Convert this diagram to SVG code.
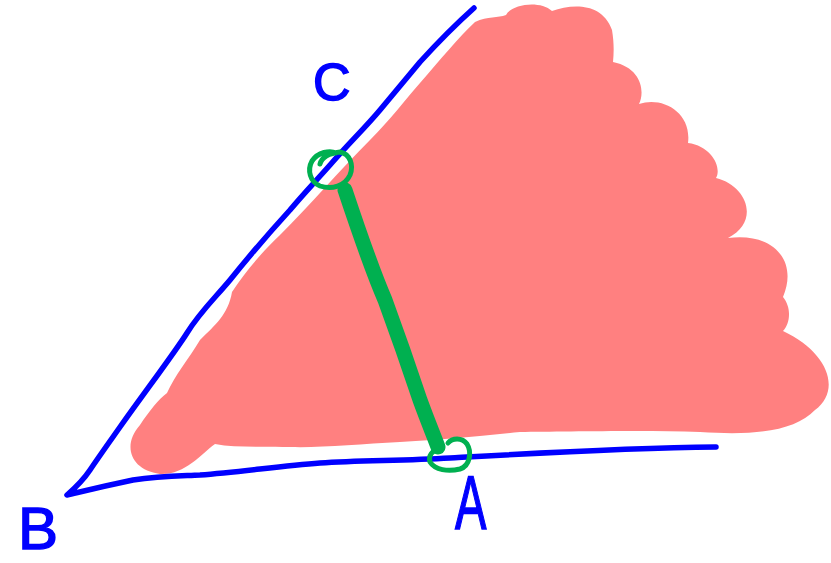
<svg xmlns="http://www.w3.org/2000/svg" width="831" height="563" viewBox="0 0 831 563">
<style>
.blue{fill:none;stroke:#0000FF;stroke-width:5.5;stroke-linecap:round;stroke-linejoin:round}
.green{fill:none;stroke:#00B050;stroke-linecap:round;stroke-linejoin:round}
.lbl{font-family:"Liberation Sans",Arial,sans-serif;fill:#0000FF;stroke:#0000FF;stroke-width:1.5}
</style>
<rect width="831" height="563" fill="#FFFFFF"/>
<g id="region">
<path fill="#FF8080" d="M475,22 C488,16 498,18 506,15 C512,4 540,0 552,11 C572,4 602,2 612,30 C614,42 614,52 613,62 C642,68 645,92 639,104 C662,96 692,112 688,143 C712,146 722,168 716,178 C748,186 760,222 728,238 C775,232 798,262 783,297 C792,308 790,324 783,331 C828,352 842,390 815,410 C795,430 760,436 700,432 C640,430 560,432 520,432 C480,436 440,440 400,442 C360,444 320,448 290,447 C260,446 235,448 215,444 C200,455 185,475 160,474 C130,470 122,445 140,425 C150,410 158,400 167,393 C175,375 188,360 200,340 C215,325 228,315 232,292 C245,272 262,252 280,235 C310,205 340,170 370,140 C390,120 405,100 420,83 C440,60 458,38 475,22 Z"/>
</g>
<g id="connectors">
<path id="BC" class="blue" d="M474,8 C455,25 440,40 420,62 C405,80 395,92 380,110 C365,128 350,142 330,165 C315,182 305,192 290,210 C270,232 250,255 230,280 C215,298 200,312 187,333 C175,352 150,385 120,427 C108,444 98,458 90,470 C82,482 75,488 67,495 C80,492 95,488 133,480 C160,476 180,476 200,475 C240,472 280,466 320,463 C360,460 400,461 450,458 C520,454 620,448 716,447"/>
<path id="CA" class="green" stroke-width="15" d="M345,190 C360,235 372,270 385,300 C396,330 410,370 420,400 C428,422 434,436 438,447"/>
</g>
<g id="pointC">
<path class="green" stroke-width="5" d="M320,164 C322,156 332,153 340,152 C350,154 354,165 350,175 C345,186 332,190 320,186 C310,182 307,170 312,161 C318,152 330,150 336,153"/>
</g>
<g id="pointA">
<path class="green" stroke-width="5" d="M448,443 C452,438 462,437 467,444 C472,452 470,466 460,469 C448,472 435,470 430,462 C428,456 432,450 440,449"/>
</g>
<g id="labels">
<text class="lbl" x="17" y="100" font-size="52" dx="296">C</text>
<text class="lbl" x="18" y="549" font-size="60">B</text>
<text class="lbl" transform="translate(455,529) scale(0.62,1)" x="0" y="0" font-size="76">A</text>
</g>
</svg>
